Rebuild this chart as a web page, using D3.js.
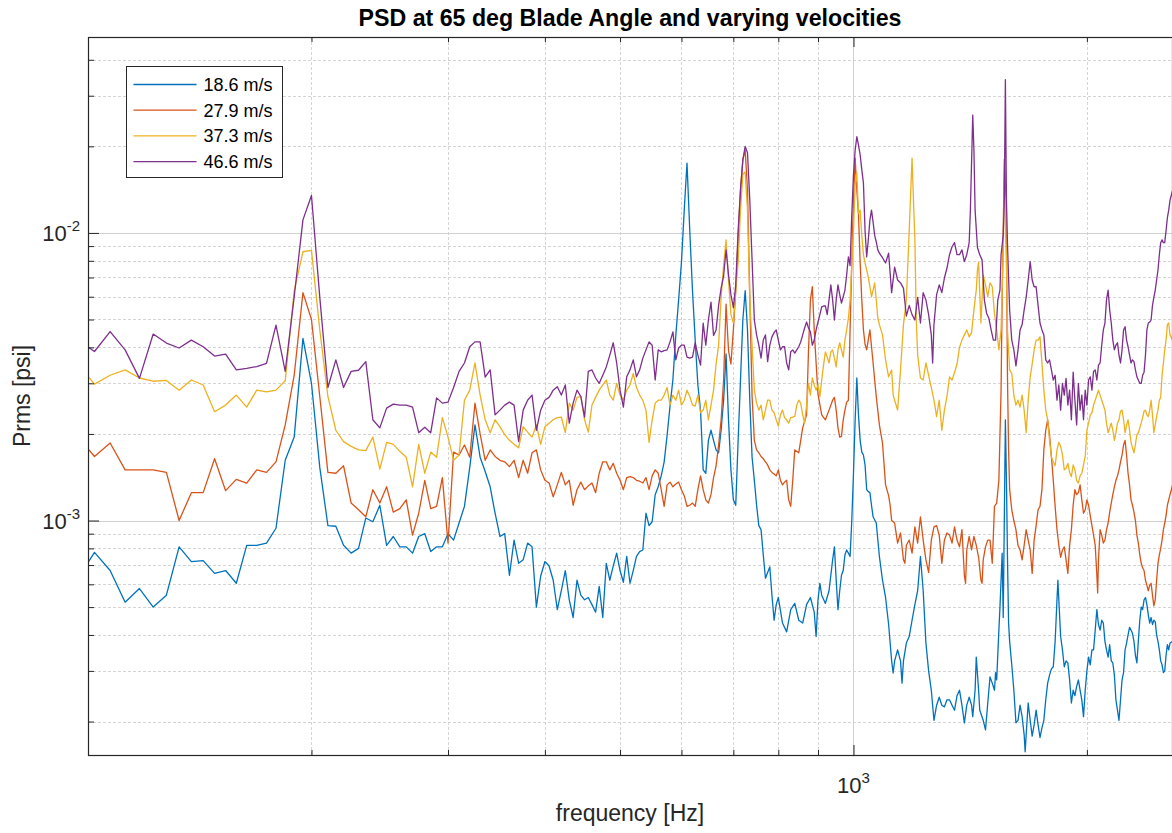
<!DOCTYPE html>
<html>
<head>
<meta charset="utf-8">
<script src="https://cdn.jsdelivr.net/npm/d3@7"></script>
<style>
  body { margin: 0; background: #fff; }
  svg { display: block; }
</style>
</head>
<body>
<div id="psd"></div>
<script>
var seriesNames = ['18.6 m/s', '27.9 m/s', '37.3 m/s', '46.6 m/s'];
var seriesColors = ['#0072BD', '#D95319', '#EDB120', '#7E2F8E'];

// [frequency Hz, Prms psi]
var psd186 = [[100,6.3e-4],[105,7.75e-4],[110,6.7e-4],[115,5.2e-4],[120,5.8e-4],[125,5.0e-4],[130,5.5e-4],[135,8.1e-4],[140,7.2e-4],[145,7.25e-4],[150,6.55e-4],[155,6.7e-4],[160,6.05e-4],[165,8.2e-4],[170,8.2e-4],[175,8.35e-4],[180,9.4e-4],[185,1.62e-3],[190,1.95e-3],[195,4.3e-3],[200,3.0e-3],[205,1.53e-3],[210,9.6e-4],[215,9.55e-4],[220,8.2e-4],[225,7.7e-4],[230,8.0e-4],[235,1.02e-3],[240,9.9e-4],[245,1.13e-3],[250,8.2e-4],[255,8.8e-4],[260,8.1e-4],[265,8.1e-4],[270,7.7e-4],[275,8.8e-4],[280,9.0e-4],[285,7.8e-4],[290,8.1e-4],[295,8.1e-4],[300,9.0e-4],[305,8.55e-4],[310,9.8e-4],[315,1.12e-3],[320,1.53e-3],[325,2.15e-3],[330,1.66e-3],[335,1.48e-3],[340,1.31e-3],[345,1.06e-3],[350,8.8e-4],[355,9.0e-4],[360,6.45e-4],[365,8.55e-4],[370,7.1e-4],[375,7.3e-4],[380,8.35e-4],[385,8.1e-4],[390,5.0e-4],[395,6.4e-4],[400,7.2e-4],[405,6.95e-4],[410,6.2e-4],[415,4.9e-4],[420,5.7e-4],[425,6.7e-4],[430,5.3e-4],[435,4.6e-4],[440,6.2e-4],[445,5.5e-4],[450,5.3e-4],[455,5.4e-4],[460,5.1e-4],[465,4.8e-4],[470,5.9e-4],[475,4.6e-4],[480,7.1e-4],[485,6.2e-4],[490,6.95e-4],[495,7.7e-4],[500,6.7e-4],[505,6.1e-4],[510,7.5e-4],[515,6.05e-4],[520,6.7e-4],[525,7.5e-4],[530,7.8e-4],[535,7.9e-4],[540,1.06e-3],[545,9.6e-4],[550,9.9e-4],[555,1.23e-3],[560,1.31e-3],[565,1.43e-3],[570,1.6e-3],[575,1.98e-3],[580,2.5e-3],[585,3.1e-3],[590,4.4e-3],[595,5.85e-3],[600,7.9e-3],[605,1.2e-2],[610,1.75e-2],[615,1.02e-2],[620,6.3e-3],[625,4.24e-3],[630,2.96e-3],[635,2.42e-3],[640,1.5e-3],[645,1.46e-3],[650,1.9e-3],[655,2.06e-3],[660,1.9e-3],[665,1.76e-3],[670,1.72e-3],[675,2.06e-3],[680,2.62e-3],[685,3.8e-3],[690,2.24e-3],[695,1.5e-3],[700,1.18e-3],[705,1.13e-3],[710,1.9e-3],[715,3.08e-3],[720,4.98e-3],[725,6.3e-3],[730,4.6e-3],[735,2.62e-3],[740,1.66e-3],[745,1.38e-3],[750,1.13e-3],[755,9.6e-4],[760,9.3e-4],[765,7.6e-4],[770,6.3e-4],[775,6.6e-4],[780,6.9e-4],[785,5.5e-4],[790,4.5e-4],[795,5.1e-4],[800,5.4e-4],[810,4.4e-4],[820,4.1e-4],[830,4.9e-4],[840,5.15e-4],[850,4.5e-4],[860,4.4e-4],[870,5.1e-4],[880,5.4e-4],[890,4.8e-4],[895,3.95e-4],[900,5.3e-4],[905,6.05e-4],[910,5.5e-4],[920,5.15e-4],[930,5.7e-4],[940,7.3e-4],[945,8.1e-4],[950,6.2e-4],[955,4.9e-4],[960,5.7e-4],[965,6.45e-4],[970,6.7e-4],[975,7.6e-4],[980,7.9e-4],[985,7.7e-4],[990,7.5e-4],[995,1.0e-3],[1000,1.46e-3],[1005,2.24e-3],[1010,3.13e-3],[1015,2.33e-3],[1020,1.9e-3],[1025,1.73e-3],[1030,1.69e-3],[1035,1.56e-3],[1040,1.28e-3],[1045,1.26e-3],[1050,1.25e-3],[1055,1.13e-3],[1060,1.03e-3],[1070,9.8e-4],[1080,7.5e-4],[1090,6.2e-4],[1100,5.4e-4],[1110,4.35e-4],[1120,3.25e-4],[1125,2.95e-4],[1130,3.25e-4],[1140,3.55e-4],[1150,3.25e-4],[1155,2.72e-4],[1160,3.25e-4],[1170,3.75e-4],[1180,3.95e-4],[1190,4.5e-4],[1200,5.1e-4],[1210,5.7e-4],[1220,7.5e-4],[1230,5.7e-4],[1240,3.75e-4],[1250,3.0e-4],[1260,2.57e-4],[1270,2.02e-4],[1280,2.28e-4],[1290,2.43e-4],[1300,2.28e-4],[1310,2.25e-4],[1320,2.38e-4],[1330,2.38e-4],[1340,2.28e-4],[1350,2.19e-4],[1360,2.46e-4],[1370,2.57e-4],[1380,2.28e-4],[1390,1.98e-4],[1400,2.28e-4],[1410,2.43e-4],[1420,2.28e-4],[1425,2.08e-4],[1435,2.57e-4],[1440,3.35e-4],[1450,2.57e-4],[1455,2.19e-4],[1470,2.02e-4],[1480,1.87e-4],[1490,2.32e-4],[1500,2.86e-4],[1510,2.72e-4],[1520,2.57e-4],[1525,2.96e-4],[1530,2.79e-4],[1540,4.16e-4],[1545,5.0e-4],[1550,6.2e-4],[1555,7.7e-4],[1560,4.6e-4],[1565,1.0e-3],[1570,2.24e-3],[1575,1.38e-3],[1580,7.3e-4],[1585,4.4e-4],[1590,3.8e-4],[1600,3.15e-4],[1610,2.57e-4],[1620,1.98e-4],[1630,2.02e-4],[1640,2.28e-4],[1650,2.08e-4],[1660,1.8e-4],[1665,1.57e-4],[1670,1.8e-4],[1680,2.32e-4],[1690,2.02e-4],[1700,1.78e-4],[1710,1.95e-4],[1720,2.19e-4],[1730,1.95e-4],[1740,1.76e-4],[1750,1.9e-4],[1760,2.02e-4],[1770,2.38e-4],[1780,2.72e-4],[1790,2.9e-4],[1800,3.05e-4],[1810,3.1e-4],[1820,3.8e-4],[1830,5.3e-4],[1835,6.2e-4],[1840,5.3e-4],[1850,3.95e-4],[1860,3.55e-4],[1870,3.1e-4],[1880,3.25e-4],[1890,3.2e-4],[1900,2.79e-4],[1910,2.32e-4],[1920,2.57e-4],[1930,2.46e-4],[1940,2.65e-4],[1950,2.79e-4],[1960,2.57e-4],[1970,2.38e-4],[1980,2.08e-4],[1990,2.57e-4],[2000,3.0e-4],[2010,3.35e-4],[2020,3.15e-4],[2030,3.55e-4],[2040,3.55e-4],[2050,4.16e-4],[2060,4.9e-4],[2070,4.35e-4],[2080,4.16e-4],[2090,4.5e-4],[2100,4.4e-4],[2110,3.8e-4],[2120,3.55e-4],[2130,3.35e-4],[2140,3.7e-4],[2150,3.25e-4],[2160,3.2e-4],[2170,2.9e-4],[2180,2.38e-4],[2190,2.19e-4],[2200,2.02e-4],[2210,2.38e-4],[2220,2.79e-4],[2230,2.96e-4],[2240,3.55e-4],[2250,3.75e-4],[2260,4.0e-4],[2270,4.25e-4],[2280,4.16e-4],[2290,4.05e-4],[2300,3.8e-4],[2310,3.4e-4],[2320,3.2e-4],[2330,3.8e-4],[2340,4.5e-4],[2350,5.0e-4],[2360,4.9e-4],[2370,5.3e-4],[2380,5.4e-4],[2390,5.1e-4],[2400,4.7e-4],[2410,4.4e-4],[2420,4.6e-4],[2430,4.35e-4],[2440,4.5e-4],[2450,4.45e-4],[2460,4.0e-4],[2470,3.8e-4],[2480,3.55e-4],[2490,3.25e-4],[2500,3.15e-4],[2510,2.96e-4],[2520,3.0e-4],[2530,3.4e-4],[2540,3.7e-4],[2550,3.55e-4],[2560,3.75e-4],[2580,3.8e-4]];

var psd279 = [[100,1.95e-3],[105,1.67e-3],[110,1.86e-3],[115,1.5e-3],[120,1.5e-3],[125,1.5e-3],[130,1.47e-3],[135,1.0e-3],[140,1.25e-3],[145,1.25e-3],[150,1.64e-3],[155,1.27e-3],[160,1.39e-3],[165,1.35e-3],[170,1.5e-3],[175,1.47e-3],[180,1.6e-3],[185,2.15e-3],[190,3.2e-3],[195,6.2e-3],[200,5.0e-3],[205,2.7e-3],[210,1.47e-3],[215,1.46e-3],[220,1.55e-3],[225,1.15e-3],[230,1.09e-3],[235,1.03e-3],[240,1.28e-3],[245,1.15e-3],[250,1.31e-3],[255,1.07e-3],[260,1.1e-3],[265,1.18e-3],[270,8.9e-4],[275,1.06e-3],[280,1.38e-3],[285,1.1e-3],[290,1.12e-3],[295,1.41e-3],[300,8.35e-4],[305,1.73e-3],[310,1.69e-3],[315,1.83e-3],[320,1.66e-3],[325,2.56e-3],[330,2.0e-3],[335,1.62e-3],[340,1.76e-3],[345,1.67e-3],[350,1.62e-3],[355,1.6e-3],[360,1.54e-3],[365,1.62e-3],[370,1.41e-3],[375,1.62e-3],[380,1.46e-3],[385,1.72e-3],[390,1.76e-3],[395,1.5e-3],[400,1.38e-3],[405,1.35e-3],[410,1.21e-3],[415,1.33e-3],[420,1.47e-3],[425,1.33e-3],[430,1.38e-3],[435,1.13e-3],[440,1.28e-3],[445,1.36e-3],[450,1.28e-3],[455,1.32e-3],[460,1.35e-3],[465,1.25e-3],[470,1.46e-3],[475,1.6e-3],[480,1.6e-3],[485,1.5e-3],[490,1.58e-3],[495,1.46e-3],[500,1.38e-3],[505,1.28e-3],[510,1.41e-3],[515,1.42e-3],[520,1.41e-3],[525,1.38e-3],[530,1.37e-3],[535,1.35e-3],[540,1.41e-3],[545,1.28e-3],[550,1.43e-3],[555,1.5e-3],[560,1.46e-3],[565,1.28e-3],[570,1.12e-3],[575,1.33e-3],[580,1.36e-3],[585,1.31e-3],[590,1.34e-3],[595,1.36e-3],[600,1.28e-3],[605,1.22e-3],[610,1.12e-3],[615,1.13e-3],[620,1.15e-3],[625,1.12e-3],[630,1.28e-3],[635,1.43e-3],[640,1.28e-3],[645,1.18e-3],[650,1.15e-3],[655,1.23e-3],[660,1.41e-3],[665,1.55e-3],[670,1.83e-3],[675,2.24e-3],[680,3.08e-3],[685,5.65e-3],[690,3.9e-3],[695,3.5e-3],[700,4.6e-3],[705,6.3e-3],[710,9.5e-3],[715,1.41e-2],[720,1.8e-2],[725,1.94e-2],[730,1.41e-2],[735,6.0e-3],[740,2.7e-3],[745,1.9e-3],[750,1.76e-3],[755,1.72e-3],[760,1.67e-3],[765,1.64e-3],[770,1.6e-3],[775,1.56e-3],[780,1.5e-3],[785,1.47e-3],[790,1.45e-3],[795,1.43e-3],[800,1.5e-3],[805,1.38e-3],[810,1.33e-3],[815,1.36e-3],[820,1.38e-3],[825,1.18e-3],[830,1.12e-3],[835,1.38e-3],[840,1.76e-3],[850,1.72e-3],[855,1.9e-3],[860,2.1e-3],[870,2.33e-3],[875,3.9e-3],[880,5.85e-3],[885,6.5e-3],[890,4.6e-3],[895,3.53e-3],[900,2.75e-3],[910,2.33e-3],[920,2.24e-3],[930,2.42e-3],[940,2.62e-3],[945,2.68e-3],[950,2.42e-3],[955,2.1e-3],[960,1.95e-3],[965,1.96e-3],[970,2.24e-3],[975,2.42e-3],[980,2.58e-3],[985,2.62e-3],[990,4.6e-3],[995,7.9e-3],[1000,1.3e-2],[1005,1.82e-2],[1010,1.41e-2],[1015,1.16e-2],[1020,7.9e-3],[1025,5.85e-3],[1030,4.6e-3],[1035,4.1e-3],[1040,3.92e-3],[1050,4.6e-3],[1060,3.53e-3],[1070,2.7e-3],[1080,2.15e-3],[1090,1.86e-3],[1100,1.33e-3],[1110,1.22e-3],[1115,1.13e-3],[1120,1.0e-3],[1130,9.8e-4],[1140,8.35e-4],[1150,9.05e-4],[1160,7.3e-4],[1165,7.1e-4],[1170,8.2e-4],[1180,8.55e-4],[1190,7.7e-4],[1200,9.5e-4],[1210,8.35e-4],[1220,1.03e-3],[1230,8.55e-4],[1240,7.3e-4],[1250,6.6e-4],[1260,8.55e-4],[1270,9.5e-4],[1280,9.6e-4],[1290,8.9e-4],[1300,7.1e-4],[1310,8.55e-4],[1320,9.05e-4],[1330,8.9e-4],[1340,8.35e-4],[1350,9.5e-4],[1360,8.55e-4],[1370,8.1e-4],[1380,9.3e-4],[1390,6.45e-4],[1395,6.05e-4],[1400,7.9e-4],[1410,8.8e-4],[1420,7.9e-4],[1430,8.8e-4],[1440,8.2e-4],[1450,7.45e-4],[1460,6.2e-4],[1465,6.05e-4],[1470,7.3e-4],[1480,8.1e-4],[1490,8.55e-4],[1500,8.55e-4],[1510,7.1e-4],[1520,1.12e-3],[1530,1.15e-3],[1540,1.38e-3],[1550,2.84e-3],[1555,5.85e-3],[1560,1.02e-2],[1565,1.8e-2],[1570,1.5e-2],[1575,8.7e-3],[1580,3.08e-3],[1585,1.76e-3],[1590,1.28e-3],[1600,1.09e-3],[1610,1.0e-3],[1620,9.3e-4],[1630,8.2e-4],[1640,7.9e-4],[1650,7.3e-4],[1660,8.2e-4],[1670,9.3e-4],[1680,8.55e-4],[1690,7.9e-4],[1700,6.55e-4],[1710,8.55e-4],[1720,9.6e-4],[1730,1.09e-3],[1740,1.12e-3],[1750,1.28e-3],[1760,1.76e-3],[1770,2.06e-3],[1780,2.24e-3],[1790,1.98e-3],[1800,1.67e-3],[1810,1.38e-3],[1820,1.12e-3],[1830,9.3e-4],[1840,8.2e-4],[1850,7.45e-4],[1860,7.9e-4],[1870,8.1e-4],[1880,7.3e-4],[1890,6.55e-4],[1900,8.2e-4],[1910,9.3e-4],[1920,1.13e-3],[1930,1.28e-3],[1940,1.23e-3],[1950,1.25e-3],[1960,1.33e-3],[1970,1.18e-3],[1980,1.06e-3],[1990,1.09e-3],[2000,1.18e-3],[2010,1.13e-3],[2020,1.04e-3],[2030,9.6e-4],[2040,8.9e-4],[2050,8.2e-4],[2060,6.45e-4],[2065,5.6e-4],[2070,7.3e-4],[2080,9.3e-4],[2090,8.9e-4],[2100,8.35e-4],[2110,8.55e-4],[2120,9.3e-4],[2130,9.8e-4],[2140,1.07e-3],[2150,1.15e-3],[2160,1.23e-3],[2170,1.31e-3],[2180,1.38e-3],[2190,1.43e-3],[2200,1.5e-3],[2210,1.6e-3],[2220,1.69e-3],[2230,1.83e-3],[2240,1.9e-3],[2250,1.69e-3],[2260,1.46e-3],[2270,1.33e-3],[2280,1.18e-3],[2290,1.13e-3],[2300,1.07e-3],[2310,1.0e-3],[2320,8.9e-4],[2330,8.35e-4],[2340,7.6e-4],[2350,7.1e-4],[2360,6.85e-4],[2370,6.7e-4],[2380,6.2e-4],[2390,5.95e-4],[2400,5.7e-4],[2410,5.95e-4],[2420,6.05e-4],[2430,5.5e-4],[2440,5.05e-4],[2450,5.3e-4],[2460,6.2e-4],[2470,7.1e-4],[2480,7.6e-4],[2490,8.0e-4],[2500,8.55e-4],[2510,9.3e-4],[2520,9.8e-4],[2530,1.04e-3],[2540,1.13e-3],[2550,1.18e-3],[2560,1.23e-3],[2580,1.33e-3]];

var psd373 = [[100,3.5e-3],[105,2.98e-3],[110,3.2e-3],[115,3.34e-3],[120,3.13e-3],[125,3.05e-3],[130,3.07e-3],[135,2.84e-3],[140,3.08e-3],[145,2.96e-3],[150,2.39e-3],[155,2.52e-3],[160,2.73e-3],[165,2.48e-3],[170,2.84e-3],[175,2.8e-3],[180,2.84e-3],[185,3.06e-3],[190,6.3e-3],[195,8.6e-3],[200,8.7e-3],[205,4.6e-3],[210,2.7e-3],[215,2.06e-3],[220,1.88e-3],[225,1.81e-3],[230,1.76e-3],[235,1.75e-3],[240,1.95e-3],[245,1.51e-3],[250,1.87e-3],[255,1.84e-3],[260,1.74e-3],[265,1.66e-3],[270,1.31e-3],[275,1.84e-3],[280,1.46e-3],[285,1.73e-3],[290,1.66e-3],[295,2.28e-3],[300,1.95e-3],[305,1.62e-3],[310,1.69e-3],[315,2.62e-3],[320,2.84e-3],[325,3.53e-3],[330,2.73e-3],[335,2.24e-3],[340,2.02e-3],[345,2.24e-3],[350,2.12e-3],[355,1.99e-3],[360,1.9e-3],[365,1.84e-3],[370,1.79e-3],[375,2.12e-3],[380,2.03e-3],[385,1.95e-3],[390,2.15e-3],[395,1.84e-3],[400,2.12e-3],[405,2.18e-3],[410,2.24e-3],[415,2.28e-3],[420,2.29e-3],[425,2.02e-3],[430,2.56e-3],[435,2.42e-3],[440,2.68e-3],[445,2.7e-3],[450,2.24e-3],[455,2.03e-3],[460,2.52e-3],[465,2.68e-3],[470,2.84e-3],[475,2.96e-3],[480,3.08e-3],[485,2.73e-3],[490,2.62e-3],[495,3.0e-3],[500,2.73e-3],[505,2.62e-3],[510,2.84e-3],[515,2.96e-3],[520,3.25e-3],[525,2.9e-3],[530,2.73e-3],[535,2.62e-3],[540,2.42e-3],[545,1.87e-3],[550,2.24e-3],[555,2.56e-3],[560,2.62e-3],[565,2.62e-3],[570,2.73e-3],[575,2.9e-3],[580,2.52e-3],[585,2.73e-3],[590,2.62e-3],[595,2.84e-3],[600,2.52e-3],[605,2.62e-3],[610,2.84e-3],[615,2.7e-3],[620,2.52e-3],[625,2.5e-3],[630,2.73e-3],[635,2.37e-3],[640,2.42e-3],[645,2.62e-3],[650,2.24e-3],[655,2.52e-3],[660,2.84e-3],[665,3.5e-3],[670,4.07e-3],[675,5.97e-3],[680,7.7e-3],[685,9.46e-3],[690,6.86e-3],[695,5.2e-3],[700,4.86e-3],[705,6.33e-3],[710,7.9e-3],[715,1.2e-2],[720,1.6e-2],[725,1.63e-2],[730,1.2e-2],[735,5.85e-3],[740,4.07e-3],[745,2.84e-3],[750,2.56e-3],[755,2.42e-3],[760,2.52e-3],[765,2.24e-3],[770,2.42e-3],[775,2.62e-3],[780,2.62e-3],[785,2.42e-3],[790,2.37e-3],[795,2.24e-3],[800,2.13e-3],[805,2.33e-3],[810,2.42e-3],[815,2.28e-3],[820,2.24e-3],[825,2.18e-3],[830,2.28e-3],[835,2.29e-3],[840,2.3e-3],[845,2.52e-3],[850,2.62e-3],[855,2.56e-3],[860,2.33e-3],[865,2.18e-3],[870,2.52e-3],[875,3.0e-3],[880,2.73e-3],[885,3.13e-3],[890,2.96e-3],[895,2.84e-3],[900,2.96e-3],[905,2.7e-3],[910,3.08e-3],[915,3.47e-3],[920,3.86e-3],[925,3.7e-3],[930,3.53e-3],[935,3.86e-3],[940,3.92e-3],[945,3.67e-3],[950,3.42e-3],[955,3.92e-3],[960,4.15e-3],[965,3.92e-3],[970,3.7e-3],[975,4.24e-3],[980,4.6e-3],[985,5.05e-3],[990,5.85e-3],[995,7.7e-3],[1000,1.02e-2],[1005,1.47e-2],[1010,1.62e-2],[1015,1.17e-2],[1020,1.2e-2],[1025,9.8e-3],[1030,8.4e-3],[1035,7.86e-3],[1040,7.43e-3],[1045,7.0e-3],[1050,6.5e-3],[1055,6.0e-3],[1060,6.33e-3],[1065,6.7e-3],[1070,5.85e-3],[1075,5.05e-3],[1080,4.8e-3],[1090,4.42e-3],[1100,3.62e-3],[1110,3.16e-3],[1120,3.34e-3],[1125,2.73e-3],[1130,2.62e-3],[1140,2.42e-3],[1150,3.34e-3],[1160,4.8e-3],[1170,5.85e-3],[1180,1.02e-2],[1190,1.82e-2],[1195,1.3e-2],[1200,9.5e-3],[1205,4.98e-3],[1210,3.76e-3],[1220,3.13e-3],[1230,3.08e-3],[1240,3.53e-3],[1250,3.2e-3],[1260,2.9e-3],[1270,2.62e-3],[1280,2.3e-3],[1290,2.62e-3],[1300,2.06e-3],[1310,2.42e-3],[1320,2.7e-3],[1330,3.16e-3],[1340,3.08e-3],[1350,3.27e-3],[1360,3.5e-3],[1370,4.0e-3],[1380,4.24e-3],[1390,4.42e-3],[1400,4.6e-3],[1410,4.35e-3],[1420,4.5e-3],[1430,5.4e-3],[1440,6.33e-3],[1445,7.43e-3],[1450,7.9e-3],[1460,4.86e-3],[1470,7.15e-3],[1480,6.6e-3],[1490,6.0e-3],[1500,6.7e-3],[1510,6.5e-3],[1520,5.25e-3],[1530,4.6e-3],[1540,3.92e-3],[1550,4.6e-3],[1560,8.7e-3],[1565,1.41e-2],[1570,1.3e-2],[1575,8.0e-3],[1580,4.6e-3],[1590,3.34e-3],[1600,3.25e-3],[1610,2.73e-3],[1620,2.52e-3],[1630,2.62e-3],[1640,2.48e-3],[1650,2.73e-3],[1660,2.42e-3],[1670,2.02e-3],[1680,2.62e-3],[1690,3.16e-3],[1700,3.5e-3],[1710,3.92e-3],[1720,4.24e-3],[1730,4.24e-3],[1740,4.35e-3],[1750,3.53e-3],[1760,2.84e-3],[1770,2.42e-3],[1780,2.24e-3],[1790,1.9e-3],[1800,1.66e-3],[1810,1.6e-3],[1820,1.55e-3],[1830,1.76e-3],[1840,1.87e-3],[1850,1.81e-3],[1860,1.69e-3],[1870,1.5e-3],[1880,1.52e-3],[1890,1.58e-3],[1900,1.47e-3],[1910,1.42e-3],[1920,1.56e-3],[1930,1.5e-3],[1940,1.38e-3],[1950,1.35e-3],[1960,1.43e-3],[1970,1.46e-3],[1980,1.56e-3],[1990,1.67e-3],[2000,2.06e-3],[2010,2.18e-3],[2020,2.33e-3],[2030,2.37e-3],[2040,2.52e-3],[2050,2.62e-3],[2060,2.73e-3],[2070,2.84e-3],[2080,2.73e-3],[2090,2.62e-3],[2100,2.52e-3],[2110,2.42e-3],[2120,2.18e-3],[2130,2.02e-3],[2140,2.1e-3],[2150,2.18e-3],[2160,2.06e-3],[2170,1.9e-3],[2180,2.02e-3],[2190,2.18e-3],[2200,2.24e-3],[2210,2.4e-3],[2220,2.42e-3],[2230,2.24e-3],[2240,2.02e-3],[2250,2.15e-3],[2260,2.24e-3],[2270,2.06e-3],[2280,1.87e-3],[2290,1.79e-3],[2300,1.72e-3],[2310,1.84e-3],[2320,1.99e-3],[2330,2.02e-3],[2340,2.1e-3],[2350,2.18e-3],[2360,2.28e-3],[2370,2.4e-3],[2380,2.42e-3],[2390,2.33e-3],[2400,2.3e-3],[2410,2.42e-3],[2420,2.62e-3],[2430,2.33e-3],[2440,2.02e-3],[2450,2.15e-3],[2460,2.3e-3],[2470,2.42e-3],[2480,2.62e-3],[2490,2.68e-3],[2500,3.2e-3],[2510,3.53e-3],[2520,3.92e-3],[2530,4.24e-3],[2540,4.8e-3],[2550,4.86e-3],[2560,4.42e-3],[2580,4.24e-3]];

var psd466 = [[100,4.24e-3],[105,3.87e-3],[110,4.54e-3],[115,3.92e-3],[120,3.12e-3],[125,4.45e-3],[130,4.14e-3],[135,3.98e-3],[140,4.24e-3],[145,4.02e-3],[150,3.73e-3],[155,3.79e-3],[160,3.34e-3],[165,3.38e-3],[170,3.43e-3],[175,3.52e-3],[180,4.78e-3],[185,3.3e-3],[190,6.0e-3],[195,1.11e-2],[200,1.35e-2],[205,5.97e-3],[210,2.9e-3],[215,3.62e-3],[220,2.9e-3],[225,3.3e-3],[230,3.33e-3],[235,3.57e-3],[240,2.24e-3],[245,2.1e-3],[250,2.46e-3],[255,2.54e-3],[260,2.52e-3],[265,2.52e-3],[270,2.48e-3],[275,2.02e-3],[280,2.11e-3],[285,2.02e-3],[290,2.67e-3],[295,2.56e-3],[300,2.58e-3],[305,2.9e-3],[310,3.3e-3],[315,3.53e-3],[320,4.02e-3],[325,4.18e-3],[330,4.18e-3],[335,3.15e-3],[340,3.34e-3],[345,2.33e-3],[350,2.42e-3],[355,2.52e-3],[360,2.58e-3],[365,2.52e-3],[370,1.88e-3],[375,2.42e-3],[380,2.62e-3],[385,2.73e-3],[390,2.06e-3],[395,2.42e-3],[400,2.62e-3],[405,2.68e-3],[410,2.84e-3],[415,2.92e-3],[420,2.73e-3],[425,2.96e-3],[430,2.18e-3],[435,2.56e-3],[440,2.84e-3],[445,2.7e-3],[450,2.29e-3],[455,3.3e-3],[460,3.34e-3],[465,3.13e-3],[470,3.0e-3],[475,3.2e-3],[480,3.42e-3],[485,3.76e-3],[490,4.15e-3],[495,3.53e-3],[500,2.84e-3],[505,2.48e-3],[510,3.16e-3],[515,3.34e-3],[520,3.62e-3],[525,3.16e-3],[530,3.34e-3],[535,3.67e-3],[540,3.92e-3],[545,4.18e-3],[550,4.07e-3],[555,3.08e-3],[560,3.92e-3],[565,3.86e-3],[570,3.9e-3],[575,3.92e-3],[580,4.18e-3],[585,4.53e-3],[590,3.62e-3],[595,3.98e-3],[600,4.07e-3],[605,4.07e-3],[610,3.7e-3],[615,3.67e-3],[620,3.7e-3],[625,4.15e-3],[630,3.76e-3],[635,3.47e-3],[640,4.86e-3],[645,4.07e-3],[650,4.98e-3],[655,5.75e-3],[660,4.4e-3],[665,4.6e-3],[670,5.6e-3],[675,6.43e-3],[680,7.08e-3],[685,8.73e-3],[690,7.15e-3],[695,6.1e-3],[700,5.5e-3],[705,6.6e-3],[710,1.02e-2],[715,1.41e-2],[720,1.79e-2],[725,2.0e-2],[730,1.9e-2],[735,1.3e-2],[740,8.06e-3],[745,4.98e-3],[750,4.42e-3],[755,4.07e-3],[760,3.67e-3],[765,4.24e-3],[770,4.42e-3],[775,3.57e-3],[780,4.07e-3],[785,4.35e-3],[790,4.5e-3],[795,4.6e-3],[800,4.24e-3],[805,3.92e-3],[810,4.02e-3],[815,4.02e-3],[820,3.53e-3],[825,3.34e-3],[830,3.86e-3],[835,3.92e-3],[840,3.82e-3],[845,3.92e-3],[850,4.02e-3],[855,4.18e-3],[860,4.42e-3],[865,4.67e-3],[870,4.9e-3],[875,4.67e-3],[880,4.53e-3],[885,4.07e-3],[890,4.24e-3],[895,4.6e-3],[900,4.9e-3],[905,5.2e-3],[910,5.53e-3],[915,5.57e-3],[920,5.57e-3],[925,5.2e-3],[930,5.85e-3],[935,6.6e-3],[940,5.85e-3],[945,4.98e-3],[950,5.85e-3],[955,6.6e-3],[960,6.1e-3],[965,5.7e-3],[970,6.0e-3],[975,6.33e-3],[980,7.15e-3],[985,8.25e-3],[990,7.7e-3],[995,1.16e-2],[1000,1.59e-2],[1005,1.94e-2],[1010,2.16e-2],[1015,2.02e-2],[1020,1.87e-2],[1025,1.66e-2],[1030,1.49e-2],[1035,1.02e-2],[1040,8.25e-3],[1045,9.46e-3],[1050,1.11e-2],[1055,1.2e-2],[1060,1.09e-2],[1065,9.8e-3],[1070,9.3e-3],[1075,8.73e-3],[1080,8.5e-3],[1090,8.2e-3],[1100,7.86e-3],[1110,8.5e-3],[1120,6.2e-3],[1130,7.6e-3],[1140,6.86e-3],[1150,6.7e-3],[1160,6.43e-3],[1170,5.14e-3],[1180,5.6e-3],[1190,5.2e-3],[1200,4.98e-3],[1210,5.97e-3],[1220,4.86e-3],[1230,6.2e-3],[1240,5.85e-3],[1250,5.2e-3],[1260,4.42e-3],[1265,3.53e-3],[1270,4.8e-3],[1280,6.1e-3],[1290,6.6e-3],[1300,6.2e-3],[1310,6.97e-3],[1320,7.55e-3],[1330,8.4e-3],[1340,8.95e-3],[1350,9.25e-3],[1360,8.4e-3],[1370,8.4e-3],[1380,8.73e-3],[1390,7.95e-3],[1400,8.4e-3],[1410,9.25e-3],[1415,1.2e-2],[1425,2.57e-2],[1430,1.94e-2],[1435,1.2e-2],[1445,8.9e-3],[1455,8.4e-3],[1465,8.06e-3],[1475,5.85e-3],[1485,5.25e-3],[1495,5.05e-3],[1505,4.6e-3],[1515,4.24e-3],[1525,4.24e-3],[1535,5.85e-3],[1545,6.33e-3],[1550,8.4e-3],[1560,9.8e-3],[1565,1.3e-2],[1570,3.41e-2],[1575,1.3e-2],[1580,9.1e-3],[1590,5.4e-3],[1600,4.24e-3],[1610,3.92e-3],[1620,3.45e-3],[1630,3.92e-3],[1640,4.6e-3],[1650,4.8e-3],[1660,5.4e-3],[1670,5.97e-3],[1680,6.86e-3],[1690,7.95e-3],[1700,6.86e-3],[1710,6.5e-3],[1720,6.5e-3],[1730,5.6e-3],[1740,4.86e-3],[1750,4.6e-3],[1760,4.42e-3],[1770,3.62e-3],[1780,3.53e-3],[1790,3.62e-3],[1800,3.34e-3],[1810,3.08e-3],[1820,3.2e-3],[1830,2.62e-3],[1840,2.96e-3],[1850,2.42e-3],[1860,3.0e-3],[1870,2.73e-3],[1880,3.12e-3],[1890,2.52e-3],[1900,2.84e-3],[1910,2.24e-3],[1920,3.28e-3],[1930,2.62e-3],[1940,2.15e-3],[1950,3.0e-3],[1960,2.42e-3],[1970,2.73e-3],[1980,2.24e-3],[1990,2.84e-3],[2000,2.52e-3],[2010,3.08e-3],[2020,3.16e-3],[2030,2.84e-3],[2040,3.3e-3],[2050,3.34e-3],[2060,3.08e-3],[2070,3.47e-3],[2080,3.53e-3],[2090,4.07e-3],[2100,4.6e-3],[2110,4.86e-3],[2120,5.85e-3],[2130,6.33e-3],[2140,5.4e-3],[2150,4.86e-3],[2160,4.24e-3],[2170,3.92e-3],[2180,4.07e-3],[2190,4.15e-3],[2200,3.76e-3],[2210,3.53e-3],[2220,3.92e-3],[2230,4.6e-3],[2240,4.72e-3],[2250,4.24e-3],[2260,4.02e-3],[2270,3.76e-3],[2280,3.53e-3],[2290,3.62e-3],[2300,3.57e-3],[2310,3.34e-3],[2320,3.16e-3],[2330,3.08e-3],[2340,3.0e-3],[2350,3.0e-3],[2360,3.2e-3],[2370,3.28e-3],[2380,3.76e-3],[2390,4.6e-3],[2400,4.86e-3],[2410,4.9e-3],[2420,4.98e-3],[2430,5.6e-3],[2440,5.97e-3],[2450,6.33e-3],[2460,6.86e-3],[2470,7.43e-3],[2480,8.4e-3],[2490,9.25e-3],[2500,9.46e-3],[2510,9.25e-3],[2520,9.25e-3],[2530,1.02e-2],[2540,1.13e-2],[2550,1.2e-2],[2560,1.3e-2],[2580,1.41e-2]];

var xLimits = [103, 2575];
var yLimits = [1.53e-4, 4.8e-2];
var xMajorTicks = [1000];
var xMinorTicks = [200, 300, 400, 500, 600, 700, 800, 900, 2000];
var yMajorTicks = [1e-3, 1e-2];
var yMinorTicks = [2e-4, 3e-4, 4e-4, 5e-4, 6e-4, 7e-4, 8e-4, 9e-4,
                   2e-3, 3e-3, 4e-3, 5e-3, 6e-3, 7e-3, 8e-3, 9e-3,
                   2e-2, 3e-2, 4e-2];

function psdFigure() {
    var width = 1172;
    var height = 833;
    var box = { left: 88, top: 37, right: 1172, bottom: 755 };
    var axisColor = '#262626';
    var font = "'Liberation Sans', Arial, Helvetica, sans-serif";

    var svg = d3.select('#psd')
        .append('svg')
        .attr('width', width)
        .attr('height', height)
        .style('font-family', font);

    svg.append('rect')
        .attr('width', width)
        .attr('height', height)
        .attr('fill', '#fff');

    var x = d3.scaleLog().domain(xLimits).range([box.left, box.right]);
    var y = d3.scaleLog().domain(yLimits).range([box.bottom, box.top]);

    // grid: major solid, minor dotted
    var grid = svg.append('g').attr('id', 'grid');
    function vLines(ticks, cls, dash, color) {
        grid.selectAll('line.' + cls).data(ticks).enter()
            .append('line')
            .attr('class', cls)
            .attr('x1', function(d) { return Math.round(x(d)) + 0.5; })
            .attr('x2', function(d) { return Math.round(x(d)) + 0.5; })
            .attr('y1', box.top)
            .attr('y2', box.bottom)
            .attr('stroke', color)
            .attr('stroke-dasharray', dash);
    }
    function hLines(ticks, cls, dash, color) {
        grid.selectAll('line.' + cls).data(ticks).enter()
            .append('line')
            .attr('class', cls)
            .attr('x1', box.left)
            .attr('x2', box.right)
            .attr('y1', function(d) { return Math.round(y(d)) + 0.5; })
            .attr('y2', function(d) { return Math.round(y(d)) + 0.5; })
            .attr('stroke', color)
            .attr('stroke-dasharray', dash);
    }
    vLines(xMinorTicks, 'xminor', '3,2', '#d4d4d4');
    hLines(yMinorTicks, 'yminor', '3,2', '#d4d4d4');
    vLines(xMajorTicks, 'xmajor', null, '#d0d0d0');
    hLines(yMajorTicks, 'ymajor', null, '#d0d0d0');

    // series
    svg.append('clipPath').attr('id', 'plot-clip')
        .append('rect')
        .attr('x', box.left).attr('y', box.top)
        .attr('width', box.right - box.left).attr('height', box.bottom - box.top);

    var line = d3.line()
        .x(function(d) { return x(d[0]); })
        .y(function(d) { return y(d[1]); });

    var seriesData = [psd186, psd279, psd373, psd466];
    svg.append('g')
        .attr('clip-path', 'url(#plot-clip)')
        .selectAll('path').data(seriesData).enter()
        .append('path')
        .attr('d', line)
        .attr('fill', 'none')
        .attr('stroke', function(d, i) { return seriesColors[i]; })
        .attr('stroke-width', 1.3)
        .attr('stroke-linejoin', 'round');

    // ticks (inward) on all visible sides
    function ticks(axis, transform) {
        svg.append('g')
            .attr('transform', transform)
            .call(axis)
            .call(function(g) {
                g.select('.domain').remove();
                g.selectAll('text').remove();
                g.selectAll('line').attr('stroke', axisColor);
            });
    }
    ticks(d3.axisBottom(x).tickValues(xMajorTicks).tickSize(-10), `translate(0, ${box.bottom})`);
    ticks(d3.axisBottom(x).tickValues(xMinorTicks).tickSize(-5), `translate(0, ${box.bottom})`);
    ticks(d3.axisTop(x).tickValues(xMajorTicks).tickSize(-10), `translate(0, ${box.top})`);
    ticks(d3.axisTop(x).tickValues(xMinorTicks).tickSize(-5), `translate(0, ${box.top})`);
    ticks(d3.axisLeft(y).tickValues(yMajorTicks).tickSize(-11), `translate(${box.left}, 0)`);
    ticks(d3.axisLeft(y).tickValues(yMinorTicks).tickSize(-6), `translate(${box.left}, 0)`);

    // axes box
    svg.append('rect')
        .attr('x', box.left + 0.5)
        .attr('y', box.top + 0.5)
        .attr('width', box.right - box.left)
        .attr('height', box.bottom - box.top)
        .attr('fill', 'none')
        .attr('stroke', axisColor)
        .attr('stroke-width', 1.2);

    // tick labels with exponent
    svg.selectAll('text.ytick').data(yMajorTicks).enter()
        .append('text')
        .attr('class', 'ytick')
        .attr('x', box.left - 8)
        .attr('y', function(d) { return y(d) + 8; })
        .attr('text-anchor', 'end')
        .attr('fill', axisColor)
        .style('font-size', '22px')
        .each(function(d) {
            var t = d3.select(this);
            t.append('tspan').text('10');
            t.append('tspan').attr('dy', -10).style('font-size', '15px')
                .text(String(Math.round(Math.log10(d))));
        });

    svg.selectAll('text.xtick').data(xMajorTicks).enter()
        .append('text')
        .attr('class', 'xtick')
        .attr('x', function(d) { return x(d); })
        .attr('y', box.bottom + 38)
        .attr('text-anchor', 'middle')
        .attr('fill', axisColor)
        .style('font-size', '22px')
        .each(function(d) {
            var t = d3.select(this);
            t.append('tspan').text('10');
            t.append('tspan').attr('dy', -10).style('font-size', '15px')
                .text(String(Math.round(Math.log10(d))));
        });

    // title and labels
    var midX = (box.left + box.right) / 2;
    svg.append('text')
        .attr('x', midX).attr('y', 26)
        .attr('text-anchor', 'middle')
        .style('font-size', '23.2px')
        .style('font-weight', 700)
        .attr('fill', '#000')
        .text('PSD at 65 deg Blade Angle and varying velocities');

    svg.append('text')
        .attr('x', midX).attr('y', 821)
        .attr('text-anchor', 'middle')
        .style('font-size', '23px')
        .attr('fill', axisColor)
        .text('frequency [Hz]');

    svg.append('text')
        .attr('transform', `translate(30, ${(box.top + box.bottom) / 2}) rotate(-90)`)
        .attr('text-anchor', 'middle')
        .style('font-size', '23px')
        .attr('fill', axisColor)
        .text('Prms [psi]');

    // legend
    var legend = svg.append('g').attr('transform', 'translate(126.5, 66.5)');
    legend.append('rect')
        .attr('width', 156)
        .attr('height', 111)
        .attr('fill', '#fff')
        .attr('stroke', axisColor);
    var item = legend.selectAll('g.item').data(seriesNames).enter()
        .append('g')
        .attr('class', 'item')
        .attr('transform', function(d, i) { return `translate(0, ${18 + i * 25.7})`; });
    item.append('line')
        .attr('x1', 7).attr('x2', 70)
        .attr('stroke', function(d, i) { return seriesColors[i]; })
        .attr('stroke-width', 1.3);
    item.append('text')
        .attr('x', 77).attr('y', 6.5)
        .attr('fill', '#000')
        .style('font-size', '18px')
        .text(function(d) { return d; });
}

psdFigure();
</script>
</body>
</html>
